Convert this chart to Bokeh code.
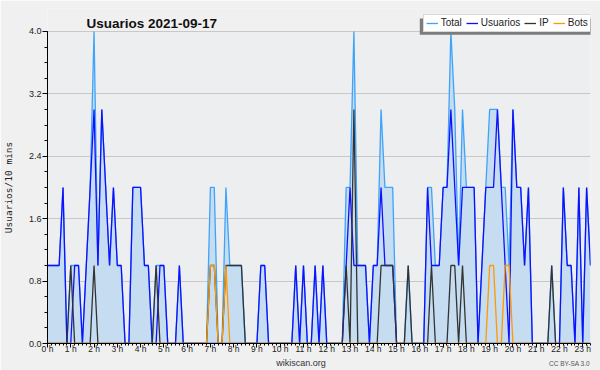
from bokeh.plotting import figure
from bokeh.models import (Range1d, FixedTicker, PrintfTickFormatter, Legend, LegendItem,
                          Label, BoxAnnotation, ColumnDataSource, LinearAxis)
from bokeh.embed import file_html
from bokeh.resources import INLINE

# ---- data: one value per 10-minute slot, 0 h .. 23 h 20 ----
usuarios = [1, 1, 1, 1, 2, 0, 0, 1, 1, 0,
            1, 2, 3, 1, 3, 2, 1, 2, 1, 1,
            0, 0, 2, 2, 2, 1, 1, 0, 0, 1,
            1, 0, 0, 0, 1, 0, 0, 0, 0, 0,
            0, 0, 0, 0, 0, 0, 0, 0, 0, 0,
            0, 0, 0, 0, 0, 1, 1, 0, 0, 0,
            0, 0, 0, 0, 1, 0, 1, 0, 0, 1,
            0, 1, 0, 0, 0, 0, 0, 1, 2, 1,
            1, 1, 1, 0, 1, 1, 2, 1, 1, 1,
            0, 0, 0, 0, 0, 0, 0, 0, 2, 1,
            1, 1, 2, 2, 3, 2, 1, 2, 2, 2,
            2, 0, 1, 2, 2, 2, 3, 2, 1, 0,
            3, 2, 2, 1, 2, 0, 0, 0, 0, 0,
            0, 0, 0, 2, 1, 1, 0, 2, 0, 2,
            1]
ip = [0, 0, 0, 0, 0, 0, 1, 0, 0, 0,
      0, 0, 1, 0, 0, 0, 0, 0, 0, 0,
      0, 0, 0, 0, 0, 0, 0, 0, 1, 0,
      0, 0, 0, 0, 0, 0, 0, 0, 0, 0,
      0, 0, 1, 1, 0, 0, 1, 1, 1, 1,
      1, 0, 0, 0, 0, 0, 0, 0, 0, 0,
      0, 0, 0, 0, 0, 0, 0, 0, 0, 0,
      0, 0, 0, 0, 0, 0, 0, 1, 0, 3,
      0, 0, 0, 0, 0, 0, 1, 1, 1, 1,
      0, 0, 0, 1, 0, 0, 0, 0, 0, 1,
      0, 0, 0, 0, 1, 1, 0, 1, 0, 0,
      0, 0, 0, 0, 0, 0, 0, 0, 0, 0,
      0, 0, 0, 0, 0, 0, 0, 0, 0, 0,
      1, 0, 0, 0, 0, 0, 0, 0, 0, 0,
      0]
bots = [0, 0, 0, 0, 0, 0, 0, 0, 0, 0,
        0, 0, 0, 0, 0, 0, 0, 0, 0, 0,
        0, 0, 0, 0, 0, 0, 0, 0, 0, 0,
        0, 0, 0, 0, 0, 0, 0, 0, 0, 0,
        0, 0, 1, 1, 0, 0, 1, 0, 0, 0,
        0, 0, 0, 0, 0, 0, 0, 0, 0, 0,
        0, 0, 0, 0, 0, 0, 0, 0, 0, 0,
        0, 0, 0, 0, 0, 0, 0, 0, 0, 0,
        0, 0, 0, 0, 0, 0, 0, 0, 0, 0,
        0, 0, 0, 0, 0, 0, 0, 0, 0, 0,
        0, 0, 0, 0, 0, 0, 0, 0, 0, 0,
        0, 0, 0, 0, 1, 1, 0, 0, 1, 1,
        0, 0, 0, 0, 0, 0, 0, 0, 0, 0,
        0, 0, 0, 0, 0, 0, 0, 0, 0, 0,
        0]
total = [1, 1, 1, 1, 2, 0, 1, 1, 1, 0,
         1, 2, 4, 1, 3, 2, 1, 2, 1, 1,
         0, 0, 2, 2, 2, 1, 1, 0, 1, 1,
         1, 0, 0, 0, 1, 0, 0, 0, 0, 0,
         0, 0, 2, 2, 0, 0, 2, 1, 1, 1,
         1, 0, 0, 0, 0, 1, 1, 0, 0, 0,
         0, 0, 0, 0, 1, 0, 1, 0, 0, 1,
         0, 1, 0, 0, 0, 0, 0, 2, 2, 4,
         1, 1, 1, 0, 1, 1, 3, 2, 2, 2,
         0, 0, 0, 1, 0, 0, 0, 0, 2, 2,
         1, 1, 2, 2, 4, 3, 1, 3, 2, 2,
         2, 0, 1, 2, 3, 3, 3, 2, 2, 1,
         3, 2, 2, 1, 2, 0, 0, 0, 0, 0,
         1, 0, 0, 2, 1, 1, 0, 2, 0, 2,
         1]
hours = list(range(24))
hour_labels = [f"{h} h" for h in hours]
y_ticks = [0.0, 0.8, 1.6, 2.4, 3.2, 4.0]

title_text = "Usuarios  2021-09-17"
y_label = "Usuarios/10 mins"
series_names = ["Total", "Usuarios", "IP", "Bots"]
footer_site = "wikiscan.org"
footer_license = "CC BY-SA 3.0"

# x position of each slot in hours
xs = [k / 6 for k in range(len(usuarios))]
src = ColumnDataSource(dict(x=xs, total=total, usuarios=usuarios, ip=ip, bots=bots))

FONT = "Liberation Sans"
OUTER = "#f0f0f0"

# frame: x 46..590, y 8..344 (value 4.0 sits at y=31, 0.0 at y=344)
FL, FR, FT, FB = 46, 590, 8, 344
Y_MAX = y_ticks[-1]
y_top = Y_MAX * (FB - FT) / (FB - 31)
X_MAX = xs[-1]


def px_to_x(px):
    return round(X_MAX * (px - FL) / (FR - FL), 4)


p = figure(width=600, height=370, output_backend="svg", toolbar_location=None,
           x_range=Range1d(0, X_MAX), y_range=Range1d(0, y_top),
           min_border_left=FL, min_border_right=600 - FR, min_border_top=FT,
           min_border_bottom=370 - FB)
p.background_fill_color = OUTER
p.border_fill_color = OUTER
p.outline_line_color = None

# plotting-area background (below the grid)
p.add_layout(BoxAnnotation(bottom=y_ticks[0], top=Y_MAX, fill_color="#eceef0", fill_alpha=1,
                           line_color=None, level="image"))

# areas & lines
p.varea(x="x", y1=0, y2="total", source=src, fill_color="#c6dcf0", fill_alpha=1)
r_total = p.line(x="x", y="total", source=src, line_color="#3ea3fa", line_width=1.3)
r_usu = p.line(x="x", y="usuarios", source=src, line_color="#1010ff", line_width=1.3)
r_ip = p.line(x="x", y="ip", source=src, line_color="#333333", line_width=1.3)
r_bots = p.line(x="x", y="bots", source=src, line_color="#ff9900", line_width=1.3)

# grid
p.xgrid.visible = False
p.ygrid.ticker = FixedTicker(ticks=y_ticks)
p.ygrid.grid_line_color = "#c8c8c8"
p.ygrid.grid_line_width = 1

# x axis
xa = p.xaxis[0]
xa.ticker = FixedTicker(ticks=hours, minor_ticks=xs)
xa.major_label_overrides = {h: lab for h, lab in zip(hours, hour_labels)}
xa.major_label_text_font = FONT
xa.major_label_text_font_size = "8.5px"
xa.major_label_text_color = "#222222"
xa.major_label_standoff = -4
xa.major_tick_out = 4
xa.major_tick_in = 0
xa.minor_tick_out = 2
xa.minor_tick_in = 0
xa.axis_line_color = "black"
xa.major_tick_line_color = "black"
xa.minor_tick_line_color = "black"


def text_axis(tick, text, size, standoff, font=FONT, color="#333333", orientation="horizontal"):
    ax = LinearAxis(ticker=FixedTicker(ticks=[tick], minor_ticks=[]),
                    major_label_overrides={tick: text},
                    major_label_text_font=font, major_label_text_font_size=size,
                    major_label_text_color=color, major_label_standoff=standoff,
                    major_label_orientation=orientation,
                    axis_line_color=None, major_tick_line_color=None,
                    minor_tick_line_color=None, major_tick_out=0, major_tick_in=0,
                    minor_tick_out=0, minor_tick_in=0)
    return ax


# footer texts as tick labels of label-only axes below the hour axis
t_site = px_to_x(300)
t_lic = px_to_x(569)
p.add_layout(text_axis(t_site, footer_site, "9px", 1), "below")
p.add_layout(text_axis(t_lic, footer_license, "6.5px", -11, color="#555555"), "below")

# y axis
ya = p.yaxis[0]
ya.bounds = (y_ticks[0], Y_MAX)
ya.ticker = FixedTicker(ticks=y_ticks, minor_ticks=[k * 0.2 for k in range(21)])
ya.formatter = PrintfTickFormatter(format="%.1f")
ya.major_label_text_font = FONT
ya.major_label_text_font_size = "9px"
ya.major_label_text_color = "#222222"
ya.major_label_standoff = 1
ya.major_tick_out = 5
ya.major_tick_in = 0
ya.minor_tick_out = 3
ya.minor_tick_in = 0
ya.axis_line_color = "black"
ya.major_tick_line_color = "black"
ya.minor_tick_line_color = "black"

# y axis title, centred on the 0..4 span
y_mid = (y_ticks[0] + Y_MAX) / 2
p.add_layout(text_axis(y_mid, y_label, "9.5px", 11, font="DejaVu Sans Mono",
                       color="#222222", orientation="vertical"), "left")

# legend shadow + legend (screen units are relative to the frame's bottom-left)
p.add_layout(BoxAnnotation(left=372.3, right=545, bottom=308.7, top=325,
                           left_units="screen", right_units="screen",
                           bottom_units="screen", top_units="screen",
                           fill_color="#7c7c7c", fill_alpha=1, line_color=None))
legend = Legend(items=[LegendItem(label=n, renderers=[r])
                       for n, r in zip(series_names, [r_total, r_usu, r_ip, r_bots])],
                orientation="horizontal", location=(375.7, 311.3),
                label_text_font=FONT, label_text_font_size="10px",
                label_text_color="#222222", label_text_baseline="middle",
                glyph_width=12, glyph_height=12, label_height=12, label_width=0,
                label_standoff=3, spacing=4, padding=2, margin=0,
                border_line_color="#b4b4b4", border_line_width=1,
                background_fill_color="white", background_fill_alpha=1)
p.add_layout(legend)

# title
p.add_layout(Label(x=39, y=320.3, x_units="screen", y_units="screen", text=title_text,
                   text_font=FONT, text_font_style="bold", text_font_size="13.5px",
                   text_baseline="alphabetic", text_color="#111111"))

open("out.html", "w").write(file_html(p, INLINE))
